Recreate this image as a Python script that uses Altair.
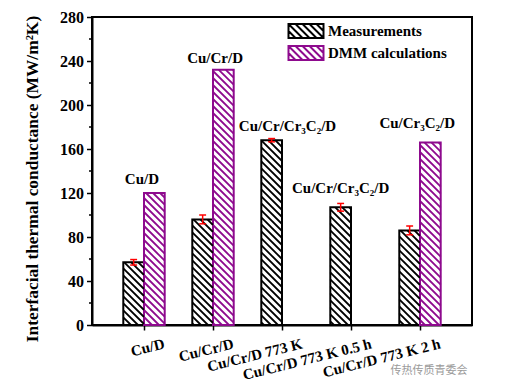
import json
import math
import altair as alt
import pandas as pd

# ---------------- data ----------------
categories = ["Cu/D", "Cu/Cr/D", "Cu/Cr/D 773 K", "Cu/Cr/D 773 K 0.5 h", "Cu/Cr/D 773 K 2 h"]
series_names = ["Measurements", "DMM calculations"]
measured = [57, 96, 168, 107, 86]
measured_err = [2.5, 4.0, 1.5, 3.5, 4.0]
dmm = [120, 232, None, None, 166]

note_labels = ["Cu/D", "Cu/Cr/D", "Cu/Cr/Cr₃C₂/D", "Cu/Cr/Cr₃C₂/D", "Cu/Cr₃C₂/D"]
note_pos = [0.97, 2.03, 3.08, 3.85, 4.96]
note_val = [128, 238, 176, 120, 179]

y_major = [0, 40, 80, 120, 160, 200, 240, 280]
y_minor = [20, 60, 100, 140, 180, 220, 260]
y_title = "Interfacial thermal conductance (MW/m²K)"
watermark = "传热传质青委会"

# ---------------- layout / style ----------------
W, H = 380, 308
X_DOMAIN = [1 - 52 / 69, 5 + 52 / 69]
Y_DOMAIN = [0, 280]
PX_X = W / (X_DOMAIN[1] - X_DOMAIN[0])
PX_Y = H / (Y_DOMAIN[1] - Y_DOMAIN[0])
BAR_W = 0.3
CAP = 0.05
PERIOD = 7.0
PURPLE = "#8E0A8E"
FONT = "Liberation Serif"

rows = []
for i, cat in enumerate(categories):
    pos = i + 1
    rows.append(dict(series=series_names[0], cat=cat, pos=pos, value=measured[i],
                     x0=pos - BAR_W, x1=pos, xc=pos - BAR_W / 2,
                     lo=measured[i] - measured_err[i], hi=measured[i] + measured_err[i]))
    if dmm[i] is not None:
        rows.append(dict(series=series_names[1], cat=cat, pos=pos, value=dmm[i],
                         x0=pos, x1=pos + BAR_W, xc=pos + BAR_W / 2, lo=None, hi=None))
bars = pd.DataFrame(rows)
bars["zero"] = 0

errs = bars[bars["series"] == series_names[0]].copy()
caps = pd.concat([
    errs.assign(cy=errs["lo"]),
    errs.assign(cy=errs["hi"]),
])
caps["cx0"] = caps["xc"] - CAP
caps["cx1"] = caps["xc"] + CAP

# hatch segments (lines u + v = c in pixel space), derived from the bars
hatch = []
for r in rows:
    u0, u1 = r["x0"] * PX_X, r["x1"] * PX_X
    h = r["value"] * PX_Y
    c = math.floor(u0 / PERIOD) * PERIOD
    while c < u1 + h:
        us = max(u0, c - h)
        ue = min(u1, c)
        if ue - us > 0.5:
            hatch.append(dict(series=r["series"], x=us / PX_X, x2=ue / PX_X,
                              y=(c - us) / PX_Y, y2=(c - ue) / PX_Y))
        c += PERIOD
hatch = pd.DataFrame(hatch)

# legend symbol: hatched rectangle as custom path
hw, hh = 2.5, 1.0
parts = [f"M{-hw},{-hh}H{hw}V{hh}H{-hw}Z"]
c = -hw - hh
while c <= hw + hh:
    xs = max(-hw, c - hh)
    xe = min(hw, c + hh)
    if xe - xs > 0.05:
        parts.append(f"M{xs:.3f},{xs - c:.3f}L{xe:.3f},{xe - c:.3f}")
    c += 1.0
symbol_path = " ".join(parts)

notes = pd.DataFrame({"label": note_labels, "pos": note_pos, "val": note_val})
minor = pd.DataFrame({"v": y_minor})

xscale = alt.Scale(domain=X_DOMAIN, nice=False, zero=False)
yscale = alt.Scale(domain=Y_DOMAIN, nice=False)
color_scale = alt.Scale(domain=series_names, range=["#000000", PURPLE])

label_expr = f"{json.dumps(categories)}[round(datum.value) - 1]"

x_axis = alt.Axis(values=[1, 2, 3, 4, 5], labelExpr=label_expr, labelAngle=346, orient="bottom",
                  labelAlign="right", labelBaseline="top", labelOffset=18, labelPadding=6,
                  labelFont=FONT, labelFontSize=15, labelFontWeight="bold", labelColor="black",
                  labelOverlap=False, labelFlush=False, labelBound=False,
                  tickSize=5, tickWidth=1.5, tickColor="black",
                  domainWidth=2, domainColor="black", grid=False, title=None)

y_axis = alt.Axis(values=y_major, orient="left", tickSize=5.5, tickWidth=1.5, tickColor="black",
                  domainWidth=2, domainColor="black", grid=False,
                  labelFont=FONT, labelFontSize=16, labelFontWeight="bold", labelColor="black",
                  labelPadding=3, labelFlush=False,
                  title=y_title, titleFont=FONT, titleFontSize=17.4, titleFontWeight="bold",
                  titleColor="black", titleX=-60, titleY=161.5, titleAngle=270,
                  titleAlign="center", titleBaseline="middle")

legend = alt.Legend(title=None, orient="none", legendX=206, legendY=6,
                    symbolType=symbol_path, symbolSize=196, symbolStrokeWidth=2,
                    symbolFillColor="white",
                    labelFont=FONT, labelFontSize=15, labelFontWeight="bold", labelColor="black",
                    labelOffset=14, rowPadding=0, padding=0)


def X(field):
    return alt.X(field, scale=xscale, axis=x_axis)


def Y(field):
    return alt.Y(field, scale=yscale, axis=y_axis)


bar_layer = alt.Chart(bars).mark_rect(filled=False, strokeWidth=2).encode(
    x=X("x0:Q"), x2="x1:Q",
    y=Y("value:Q"), y2="zero:Q",
    stroke=alt.Stroke("series:N", scale=color_scale, legend=legend),
)

hatch_layer = alt.Chart(hatch).mark_rule(strokeWidth=1.8).encode(
    x=X("x:Q"), x2="x2:Q",
    y=Y("y:Q"), y2="y2:Q",
    stroke=alt.Stroke("series:N", scale=color_scale, legend=None),
)

err_layer = alt.Chart(errs).mark_rule(color="#FF0000", strokeWidth=1.5).encode(
    x=X("xc:Q"),
    y=Y("lo:Q"), y2="hi:Q",
)

cap_layer = alt.Chart(caps).mark_rule(color="#FF0000", strokeWidth=1.5).encode(
    x=X("cx0:Q"), x2="cx1:Q",
    y=Y("cy:Q"),
)

minor_layer = alt.Chart(minor).mark_rule(color="black", strokeWidth=1.5).encode(
    x=alt.value(-3), x2=alt.value(0),
    y=Y("v:Q"),
)

text_layer = alt.Chart(notes).mark_text(font=FONT, fontSize=15, fontWeight="bold",
                                        color="black", align="center",
                                        baseline="alphabetic").encode(
    x=X("pos:Q"),
    y=Y("val:Q"),
    text="label:N",
)

wm_layer = alt.Chart(pd.DataFrame({"t": [watermark]})).mark_text(
    font="Noto Sans CJK SC", fontSize=11, color="#9a9a9a", align="center", baseline="middle"
).encode(x=alt.value(337), y=alt.value(354), text="t:N")

chart = alt.layer(bar_layer, hatch_layer, err_layer, cap_layer, minor_layer, text_layer,
                  wm_layer).properties(
    width=W, height=H,
    autosize=alt.AutoSizeParams(type="none"),
    padding={"left": 84, "top": 9, "right": 51, "bottom": 57},
    background="white",
).configure_view(stroke="black", strokeWidth=2
).configure_legend(labelFont=FONT, labelFontWeight="bold", labelFontSize=15)

chart.save("out.html", embed_options={"renderer": "svg", "actions": False})
